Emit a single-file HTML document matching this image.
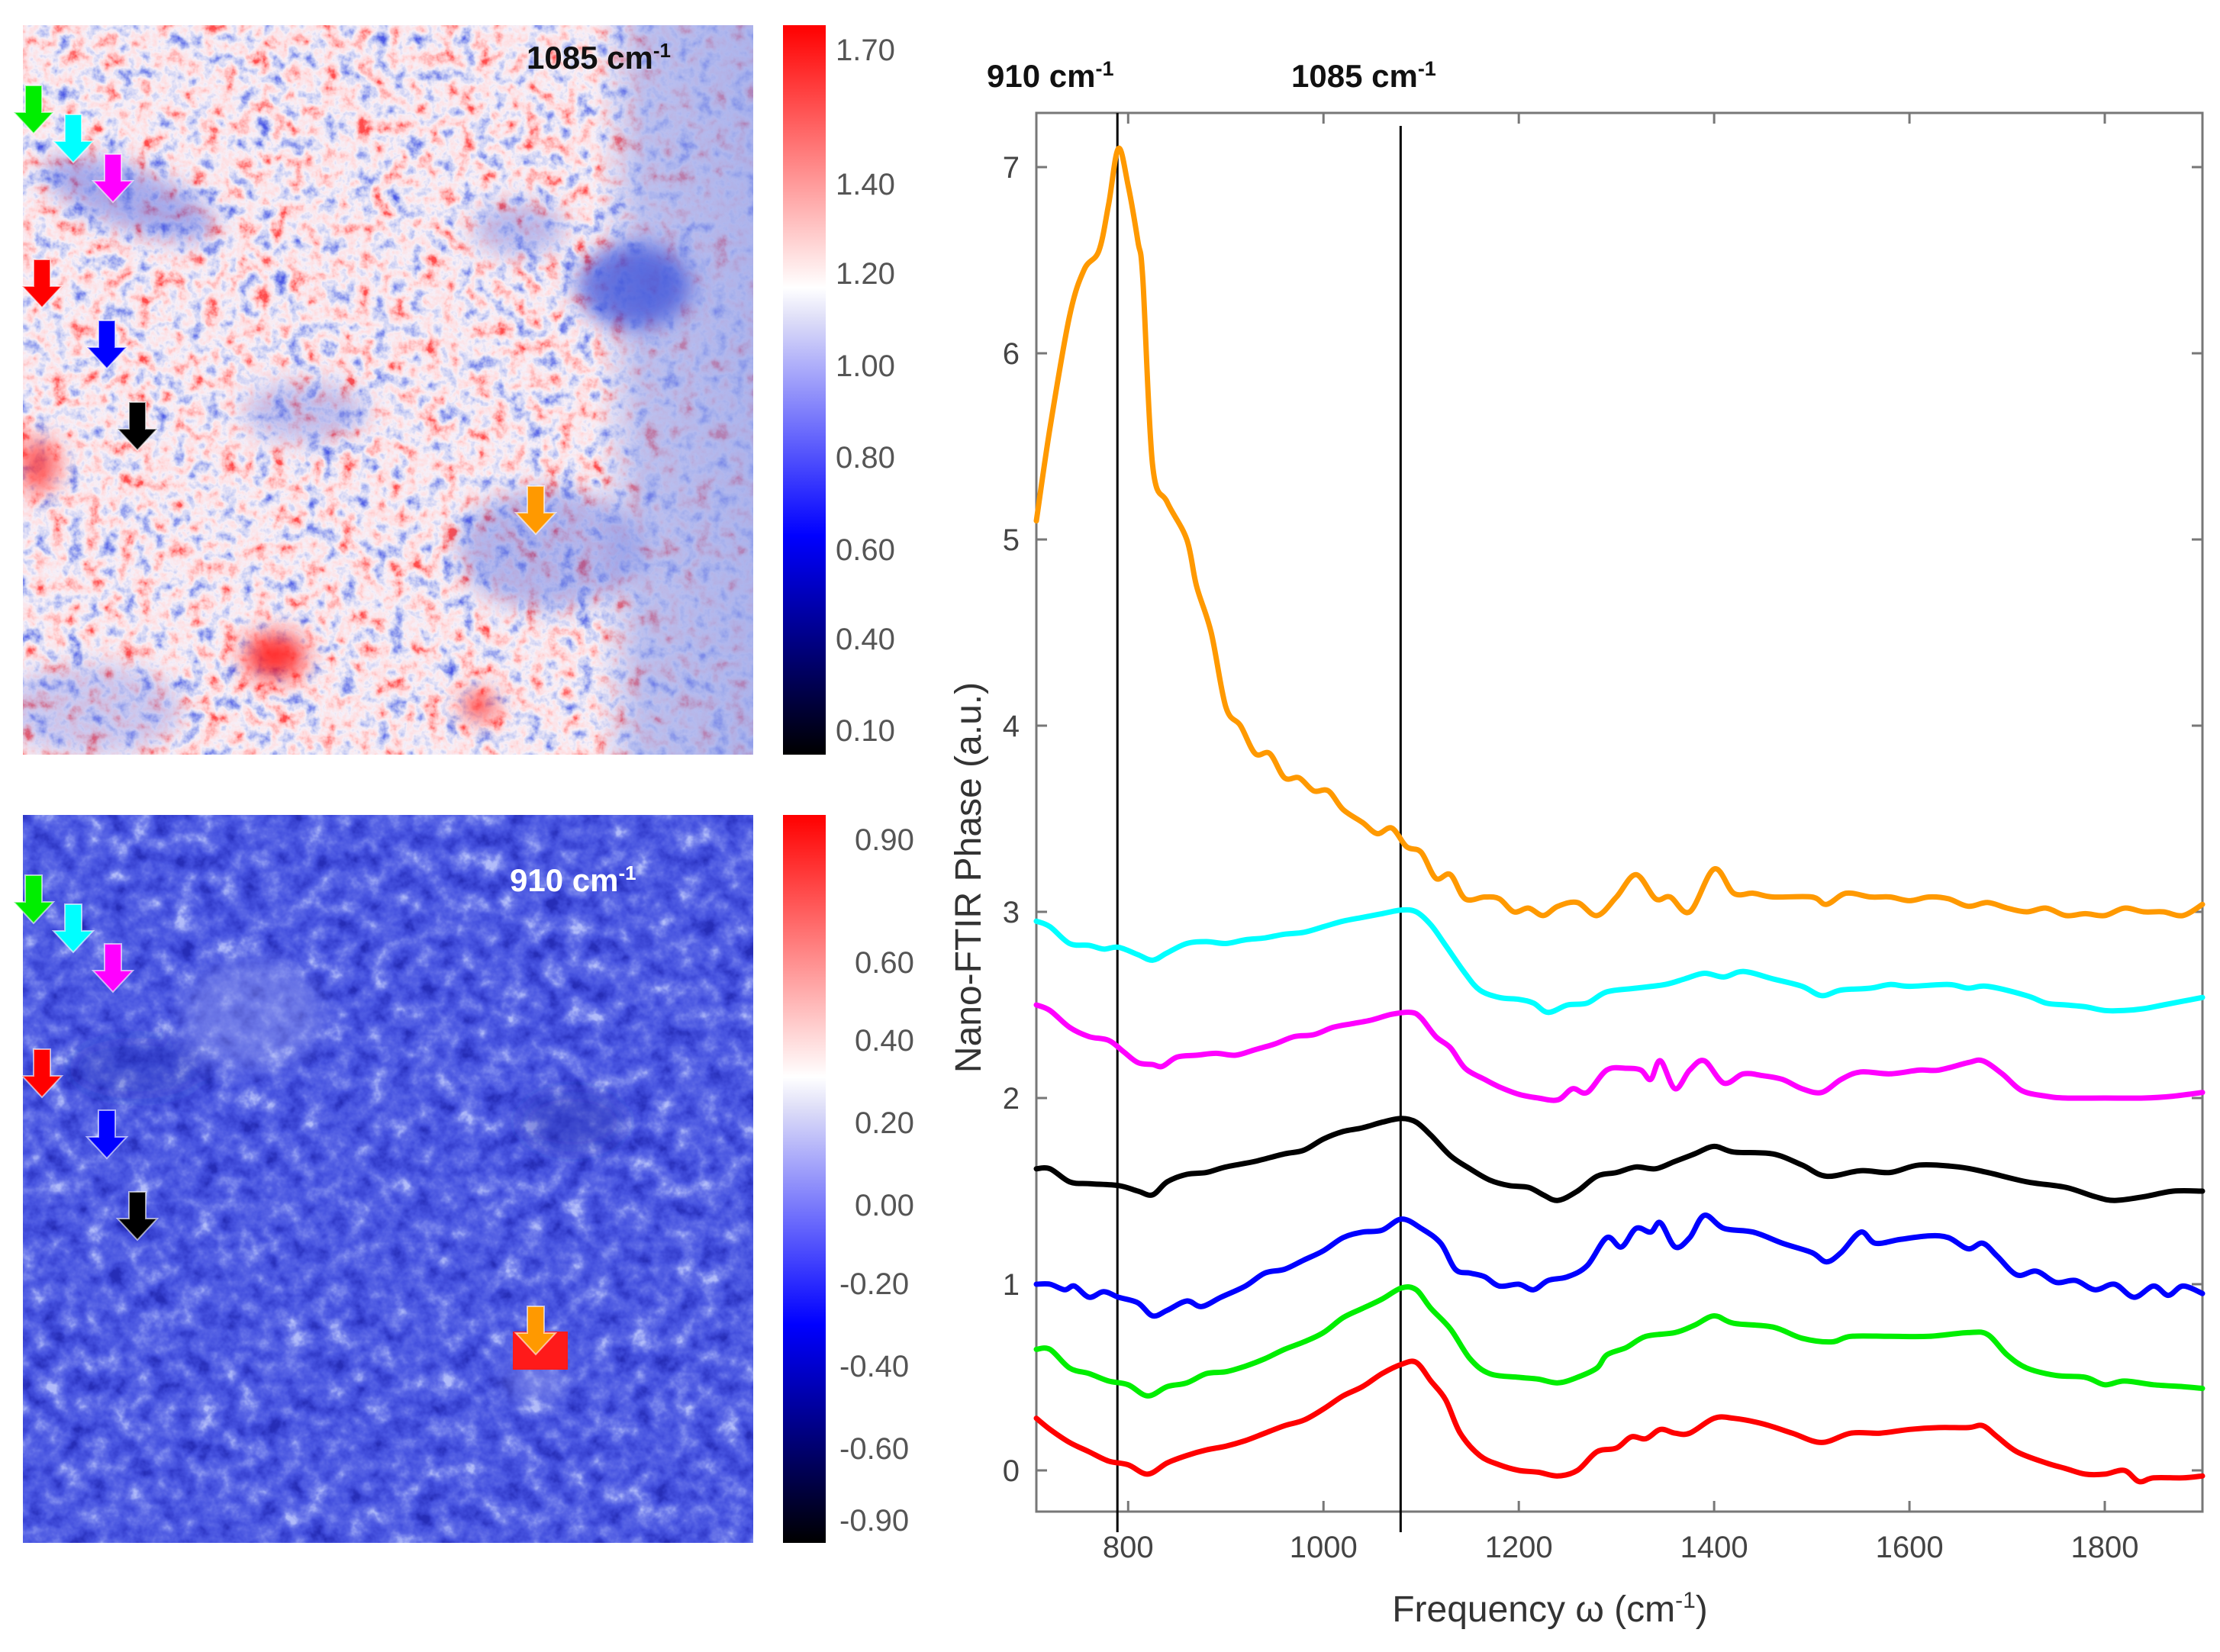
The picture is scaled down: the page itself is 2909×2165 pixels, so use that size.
<!DOCTYPE html>
<html><head><meta charset="utf-8">
<style>
html,body{margin:0;padding:0;background:#fff;}
body{width:2909px;height:2165px;position:relative;overflow:hidden;font-family:"Liberation Sans",sans-serif;}
svg{position:absolute;left:0;top:0;}
</style></head>
<body>
<svg id="fig" width="2909" height="2165" viewBox="0 0 2909 2165">
<defs>
<filter id="topNoise" x="0" y="0" width="100%" height="100%" color-interpolation-filters="sRGB">
  <feTurbulence type="fractalNoise" baseFrequency="0.045" numOctaves="4" seed="3" result="n"/>
  <feColorMatrix in="n" type="matrix" values="1 0 0 0 0  1 0 0 0 0  1 0 0 0 0  0 0 0 0 1"/>
  <feComponentTransfer>
    <feFuncR type="linear" slope="1.35" intercept="-0.13"/>
    <feFuncG type="linear" slope="1.35" intercept="-0.13"/>
    <feFuncB type="linear" slope="1.35" intercept="-0.13"/>
  </feComponentTransfer>
  <feComponentTransfer>
    <feFuncR type="table" tableValues="0.3 0.55 0.8 0.97 1 1 1"/>
    <feFuncG type="table" tableValues="0.35 0.6 0.82 0.94 0.87 0.68 0.3"/>
    <feFuncB type="table" tableValues="0.9 0.93 0.96 0.97 0.88 0.68 0.3"/>
  </feComponentTransfer>
</filter>
<filter id="botNoise" x="0" y="0" width="100%" height="100%" color-interpolation-filters="sRGB">
  <feTurbulence type="fractalNoise" baseFrequency="0.035" numOctaves="4" seed="7" result="n"/>
  <feColorMatrix in="n" type="matrix" values="1 0 0 0 0  1 0 0 0 0  1 0 0 0 0  0 0 0 0 1"/>
  <feComponentTransfer>
    <feFuncR type="linear" slope="1.5" intercept="-0.25"/>
    <feFuncG type="linear" slope="1.5" intercept="-0.25"/>
    <feFuncB type="linear" slope="1.5" intercept="-0.25"/>
  </feComponentTransfer>
  <feComponentTransfer>
    <feFuncR type="table" tableValues="0.15 0.22 0.28 0.35 0.47 0.7"/>
    <feFuncG type="table" tableValues="0.18 0.26 0.33 0.4 0.52 0.74"/>
    <feFuncB type="table" tableValues="0.72 0.82 0.88 0.9 0.93 0.98"/>
  </feComponentTransfer>
</filter>
<filter id="soft"><feGaussianBlur stdDeviation="14"/></filter>
<linearGradient id="cbTop" x1="0" y1="0" x2="0" y2="1">
  <stop offset="0" stop-color="#ff0000"/><stop offset="0.36" stop-color="#ffffff"/>
  <stop offset="0.4" stop-color="#e0e0f8"/><stop offset="0.7" stop-color="#0000ff"/>
  <stop offset="1" stop-color="#000000"/>
</linearGradient>
<linearGradient id="cbBot" x1="0" y1="0" x2="0" y2="1">
  <stop offset="0" stop-color="#ff0000"/><stop offset="0.36" stop-color="#ffffff"/>
  <stop offset="0.4" stop-color="#e0e0f8"/><stop offset="0.7" stop-color="#0000ff"/>
  <stop offset="1" stop-color="#000000"/>
</linearGradient>
<linearGradient id="rightBlue" x1="0" y1="0" x2="1" y2="0">
  <stop offset="0" stop-color="#8d9be8" stop-opacity="0"/><stop offset="0.3" stop-color="#8d9be8" stop-opacity="0.55"/><stop offset="1" stop-color="#8d9be8" stop-opacity="0.7"/>
</linearGradient>
<clipPath id="clipTop"><rect x="30" y="33" width="957" height="956"/></clipPath>
<clipPath id="clipBot"><rect x="30" y="1068" width="957" height="954"/></clipPath>
</defs>

<g>
  <rect x="30" y="33" width="957" height="956" fill="#fff"/>
  <rect x="30" y="33" width="957" height="956" filter="url(#topNoise)"/>
  <g clip-path="url(#clipTop)">
  <rect x="780" y="33" width="207" height="956" fill="url(#rightBlue)"/>
  <g filter="url(#soft)">
  <ellipse cx="830" cy="375" rx="75" ry="55" fill="#3b4fd8" opacity="0.75"/>
  <ellipse cx="170" cy="260" rx="120" ry="40" fill="#5a6ae0" opacity="0.5" transform="rotate(20 170 260)"/>
  <ellipse cx="720" cy="720" rx="120" ry="80" fill="#6070e0" opacity="0.45"/>
  <ellipse cx="680" cy="300" rx="60" ry="35" fill="#6070e0" opacity="0.4"/>
  <ellipse cx="400" cy="540" rx="80" ry="40" fill="#6070e0" opacity="0.35"/>
  <ellipse cx="120" cy="930" rx="120" ry="60" fill="#7b88e4" opacity="0.35"/>
  <ellipse cx="360" cy="860" rx="40" ry="30" fill="#ff2020" opacity="0.9"/>
  <ellipse cx="50" cy="610" rx="25" ry="35" fill="#ff3030" opacity="0.8"/>
  <ellipse cx="628" cy="925" rx="22" ry="18" fill="#ff3030" opacity="0.9"/>
  </g>
  </g>
  <text x="690" y="90" font-size="42" font-weight="bold" fill="#111">1085 cm<tspan dy="-15" font-size="26">-1</tspan></text>
</g>
<g>
  <rect x="30" y="1068" width="957" height="954" fill="#4a5ee0"/>
  <rect x="30" y="1068" width="957" height="954" filter="url(#botNoise)"/>
  <g clip-path="url(#clipBot)" filter="url(#soft)">
  <ellipse cx="330" cy="1330" rx="90" ry="70" fill="#a9b3f0" opacity="0.35"/>
  <ellipse cx="700" cy="1810" rx="40" ry="25" fill="#b8c0f2" opacity="0.3"/>
  <ellipse cx="750" cy="1470" rx="70" ry="40" fill="#2030b0" opacity="0.4"/>
  <ellipse cx="180" cy="1400" rx="90" ry="40" fill="#2030b0" opacity="0.3"/>
  </g>
  <rect x="672" y="1745" width="72" height="50" fill="#ff1a1a"/>
  <text x="668" y="1168" font-size="42" font-weight="bold" fill="#fff">910 cm<tspan dy="-15" font-size="26">-1</tspan></text>
</g>

<g id="arrows"></g>

<rect x="1026" y="33" width="56" height="956" fill="url(#cbTop)"/>
<rect x="1026" y="1068" width="56" height="954" fill="url(#cbBot)"/>
<g id="cblabels" font-size="40" fill="#555"></g>

<g id="chart"></g>
</svg>

<script>
const categoriesX = [800,1000,1200,1400,1600,1800];
const tickY = [0,1,2,3,4,5,6,7];
const seriesNames = ['orange','cyan','magenta','black','blue','green','red'];
const seriesColors = ['#ff9900','#00ffff','#ff00ff','#000000','#0000ff','#00ee00','#ff0000'];
const orangeX=[706,720,740,755,770,780,790,800,810,815,825,840,860,870,885,900,915,930,945,960,975,990,1005,1020,1040,1055,1070,1085,1100,1115,1130,1145,1165,1180,1195,1210,1225,1240,1260,1280,1300,1320,1340,1355,1375,1400,1420,1440,1460,1500,1515,1535,1560,1580,1600,1620,1640,1660,1680,1700,1720,1740,1760,1780,1800,1820,1840,1860,1880,1900];
const orangeY=[5.1,5.6,6.2,6.45,6.55,6.8,7.1,6.9,6.6,6.4,5.4,5.2,5.0,4.75,4.5,4.1,4.0,3.85,3.85,3.72,3.72,3.65,3.65,3.55,3.48,3.42,3.45,3.35,3.32,3.18,3.2,3.07,3.08,3.07,3.0,3.02,2.98,3.03,3.05,2.98,3.08,3.2,3.07,3.08,3.0,3.23,3.1,3.1,3.08,3.08,3.04,3.1,3.08,3.08,3.06,3.08,3.07,3.03,3.05,3.02,3.0,3.02,2.98,2.99,2.98,3.02,3.0,3.0,2.98,3.04];
const cyanX=[706,720,740,760,775,790,810,825,840,860,880,900,920,940,960,980,1000,1020,1040,1060,1080,1095,1110,1125,1145,1160,1180,1200,1215,1230,1250,1270,1290,1320,1350,1370,1390,1410,1430,1460,1490,1510,1530,1560,1580,1600,1640,1660,1680,1720,1740,1760,1780,1800,1820,1840,1860,1880,1900];
const cyanY=[2.95,2.92,2.83,2.82,2.8,2.81,2.77,2.74,2.78,2.83,2.84,2.83,2.85,2.86,2.88,2.89,2.92,2.95,2.97,2.99,3.01,3.0,2.93,2.82,2.67,2.58,2.54,2.53,2.51,2.46,2.5,2.51,2.57,2.59,2.61,2.64,2.67,2.65,2.68,2.64,2.6,2.55,2.58,2.59,2.61,2.6,2.61,2.59,2.6,2.55,2.51,2.5,2.49,2.47,2.47,2.48,2.5,2.52,2.54];
const magentaX=[706,720,740,760,780,795,810,825,835,850,870,890,910,930,950,970,990,1010,1030,1050,1070,1090,1100,1115,1130,1145,1165,1180,1200,1220,1240,1255,1270,1290,1310,1325,1335,1345,1360,1375,1390,1410,1430,1450,1470,1490,1510,1530,1550,1580,1610,1630,1660,1675,1695,1715,1740,1760,1800,1840,1870,1900];
const magentaY=[2.5,2.47,2.38,2.33,2.31,2.25,2.19,2.18,2.17,2.22,2.23,2.24,2.23,2.26,2.29,2.33,2.34,2.38,2.4,2.42,2.45,2.46,2.43,2.33,2.27,2.16,2.1,2.06,2.02,2.0,1.99,2.05,2.03,2.15,2.16,2.15,2.1,2.2,2.05,2.15,2.2,2.08,2.13,2.12,2.1,2.05,2.03,2.1,2.14,2.13,2.15,2.15,2.19,2.2,2.13,2.04,2.01,2.0,2.0,2.0,2.01,2.03];
const blackX=[706,720,740,760,790,810,825,840,860,880,900,930,960,980,1000,1020,1040,1060,1080,1095,1110,1130,1150,1170,1190,1210,1225,1240,1260,1280,1300,1320,1340,1360,1380,1400,1420,1460,1490,1515,1550,1580,1610,1650,1680,1720,1760,1790,1810,1840,1870,1900];
const blackY=[1.62,1.62,1.55,1.54,1.53,1.5,1.48,1.55,1.59,1.6,1.63,1.66,1.7,1.72,1.78,1.82,1.84,1.87,1.89,1.87,1.8,1.69,1.62,1.56,1.53,1.52,1.48,1.45,1.5,1.58,1.6,1.63,1.62,1.66,1.7,1.74,1.71,1.7,1.64,1.58,1.61,1.6,1.64,1.63,1.6,1.55,1.52,1.47,1.45,1.47,1.5,1.5];
const blueX=[706,720,735,745,760,775,790,810,825,840,860,875,895,920,940,960,980,1000,1020,1040,1060,1080,1100,1120,1135,1150,1165,1180,1200,1215,1230,1250,1270,1290,1305,1320,1335,1345,1360,1375,1390,1410,1440,1470,1500,1515,1530,1550,1565,1590,1620,1640,1660,1675,1690,1710,1730,1750,1770,1790,1810,1830,1850,1865,1880,1900];
const blueY=[1.0,1.0,0.97,0.99,0.93,0.96,0.93,0.9,0.83,0.86,0.91,0.88,0.93,0.99,1.06,1.08,1.13,1.18,1.25,1.28,1.29,1.35,1.3,1.22,1.08,1.06,1.04,0.99,1.0,0.97,1.02,1.04,1.1,1.25,1.2,1.3,1.28,1.33,1.2,1.25,1.37,1.3,1.28,1.22,1.17,1.12,1.17,1.28,1.22,1.24,1.26,1.25,1.19,1.22,1.15,1.05,1.07,1.01,1.02,0.97,1.0,0.93,0.99,0.94,0.99,0.95];
const greenX=[706,720,740,760,780,800,820,840,860,880,900,920,940,960,980,1000,1020,1040,1060,1080,1095,1110,1130,1150,1170,1200,1220,1240,1260,1280,1290,1310,1330,1360,1380,1400,1420,1460,1490,1520,1540,1580,1620,1660,1680,1700,1720,1750,1780,1800,1820,1850,1880,1900];
const greenY=[0.65,0.65,0.55,0.52,0.48,0.46,0.4,0.45,0.47,0.52,0.53,0.56,0.6,0.65,0.69,0.74,0.82,0.87,0.92,0.98,0.97,0.87,0.76,0.6,0.52,0.5,0.49,0.47,0.5,0.55,0.62,0.66,0.72,0.74,0.78,0.83,0.79,0.77,0.71,0.69,0.72,0.72,0.72,0.74,0.73,0.62,0.55,0.51,0.5,0.46,0.48,0.46,0.45,0.44];
const redX=[706,720,740,760,780,800,820,840,860,880,900,920,940,960,980,1000,1020,1040,1060,1080,1095,1110,1125,1140,1160,1180,1200,1220,1240,1260,1280,1300,1315,1330,1345,1360,1375,1400,1420,1450,1480,1510,1540,1570,1600,1630,1660,1675,1690,1710,1740,1760,1780,1800,1820,1835,1850,1880,1900];
const redY=[0.28,0.22,0.15,0.1,0.05,0.03,-0.02,0.04,0.08,0.11,0.13,0.16,0.2,0.24,0.27,0.33,0.4,0.45,0.52,0.57,0.58,0.48,0.38,0.2,0.08,0.03,0.0,-0.01,-0.03,0.0,0.1,0.12,0.18,0.17,0.22,0.2,0.2,0.28,0.28,0.25,0.2,0.15,0.2,0.2,0.22,0.23,0.23,0.24,0.18,0.1,0.04,0.01,-0.02,-0.02,0.0,-0.06,-0.04,-0.04,-0.03];
const markerLines = [789,1079];
const markerLabels = ['910 cm','1085 cm'];
const cbTopLabels = ['1.70','1.40','1.20','1.00','0.80','0.60','0.40','0.10'];
const cbBotLabels = ['0.90','0.60','0.40','0.20','0.00','-0.20','-0.40','-0.60','-0.90'];

const NS='http://www.w3.org/2000/svg';
function mk(tag, attrs, parent){const e=document.createElementNS(NS,tag);for(const k in attrs)e.setAttribute(k,attrs[k]);parent.appendChild(e);return e;}
const L=1358,R=2886,T=148,B=1981;
const xMin=706,xMax=1900;
const xs=v=>L+(v-xMin)/(xMax-xMin)*(R-L);
const ys=v=>1927-v*244;
const chart=document.getElementById('chart');

const box=mk('rect',{x:L,y:T,width:R-L,height:B-T,fill:'none',stroke:'#777','stroke-width':3},chart);


categoriesX.forEach(v=>{
  const x=xs(v);
  mk('line',{x1:x,y1:B,x2:x,y2:B-14,stroke:'#777','stroke-width':3},chart);
  mk('line',{x1:x,y1:T,x2:x,y2:T+14,stroke:'#777','stroke-width':3},chart);
  const t=mk('text',{x:x,y:B+60,'font-size':40,fill:'#444','text-anchor':'middle'},chart);
  t.textContent=v;
  
  
});
tickY.forEach(v=>{
  const y=ys(v);
  mk('line',{x1:L,y1:y,x2:L+14,y2:y,stroke:'#777','stroke-width':3},chart);
  mk('line',{x1:R,y1:y,x2:R-14,y2:y,stroke:'#777','stroke-width':3},chart);
  const t=mk('text',{x:L-22,y:y+14,'font-size':40,fill:'#444','text-anchor':'end'},chart);
  t.textContent=v;
  
  
});
const xt=mk('text',{x:2031,y:2125,'font-size':48,fill:'#333','text-anchor':'middle'},chart);
xt.innerHTML='Frequency ω (cm<tspan dy="-18" font-size="30">-1</tspan><tspan dy="18">)</tspan>';


const yt=mk('text',{x:0,y:0,'font-size':48,fill:'#333','text-anchor':'middle',transform:'translate(1285,1150) rotate(-90)'},chart);
yt.textContent='Nano-FTIR Phase (a.u.)';



const labelX=[1293,1692];
markerLines.forEach((v,i)=>{
  const ln=mk('line',{x1:xs(v),y1:i?165:T,x2:xs(v),y2:2008,stroke:'#000','stroke-width':3},chart);
  
  
  const t=mk('text',{x:labelX[i],y:114,'font-size':42,'font-weight':'bold',fill:'#111'},chart);
  t.innerHTML=markerLabels[i]+'<tspan dy="-15" font-size="27">-1</tspan>';
  
  
});

function smooth(px){let d='M'+px[0][0]+' '+px[0][1];
  for(let i=0;i<px.length-1;i++){const p0=px[Math.max(0,i-1)],p1=px[i],p2=px[i+1],p3=px[Math.min(px.length-1,i+2)];
    const c1=[p1[0]+(p2[0]-p0[0])/6,p1[1]+(p2[1]-p0[1])/6],c2=[p2[0]-(p3[0]-p1[0])/6,p2[1]-(p3[1]-p1[1])/6];
    d+=' C'+c1[0].toFixed(1)+' '+c1[1].toFixed(1)+' '+c2[0].toFixed(1)+' '+c2[1].toFixed(1)+' '+p2[0].toFixed(1)+' '+p2[1].toFixed(1);}
  return d;}
const allX=[orangeX,cyanX,magentaX,blackX,blueX,greenX,redX];
const allY=[orangeY,cyanY,magentaY,blackY,blueY,greenY,redY];
allX.forEach((xa,i)=>{
  const px=xa.map((x,j)=>[xs(x),ys(allY[i][j])]);
  const p=mk('path',{d:smooth(px),fill:'none',stroke:seriesColors[i],'stroke-width':7,'stroke-linejoin':'round','stroke-linecap':'round'},chart);
  
  
});

const cbl=document.getElementById('cblabels');
const cbTopY=[65,241,358,479,599,720,837,957];
cbTopLabels.forEach((s,i)=>{
  const t=mk('text',{x:1095,y:cbTopY[i]+14},cbl);t.textContent=s;
  
  
});
const cbBotY=[1100,1261,1363,1471,1579,1682,1790,1898,1992];
cbBotLabels.forEach((s,i)=>{
  const t=mk('text',{x:s[0]==='-'?1100:1120,y:cbBotY[i]+14},cbl);t.textContent=s;
  
  
});

const ar=document.getElementById('arrows');
const arrowColors=['#00ee00','#00ffff','#ff00ff','#ff0000','#0000ff','#000000','#ff9900'];
const arrowNames=['green','cyan','magenta','red','blue','black','orange'];
const arrowCx=[44,96,148,55,140,180,702];
const arrowTip=[175,213,265,403,483,590,700];
[0,1035].forEach((off,k)=>{
  arrowCx.forEach((cx,i)=>{
    const tip=arrowTip[i]+off+(k&&i===6?40:0);
    const pts=[[cx-11,tip-63],[cx+11,tip-63],[cx+11,tip-28],[cx+26,tip-28],[cx,tip],[cx-26,tip-28],[cx-11,tip-28]].map(p=>p.join(',')).join(' ');
    const a=mk('polygon',{points:pts,fill:arrowColors[i],stroke:'#fff','stroke-width':2,'stroke-opacity':0.6},ar);
    
    
  });
});
</script>
</body></html>
